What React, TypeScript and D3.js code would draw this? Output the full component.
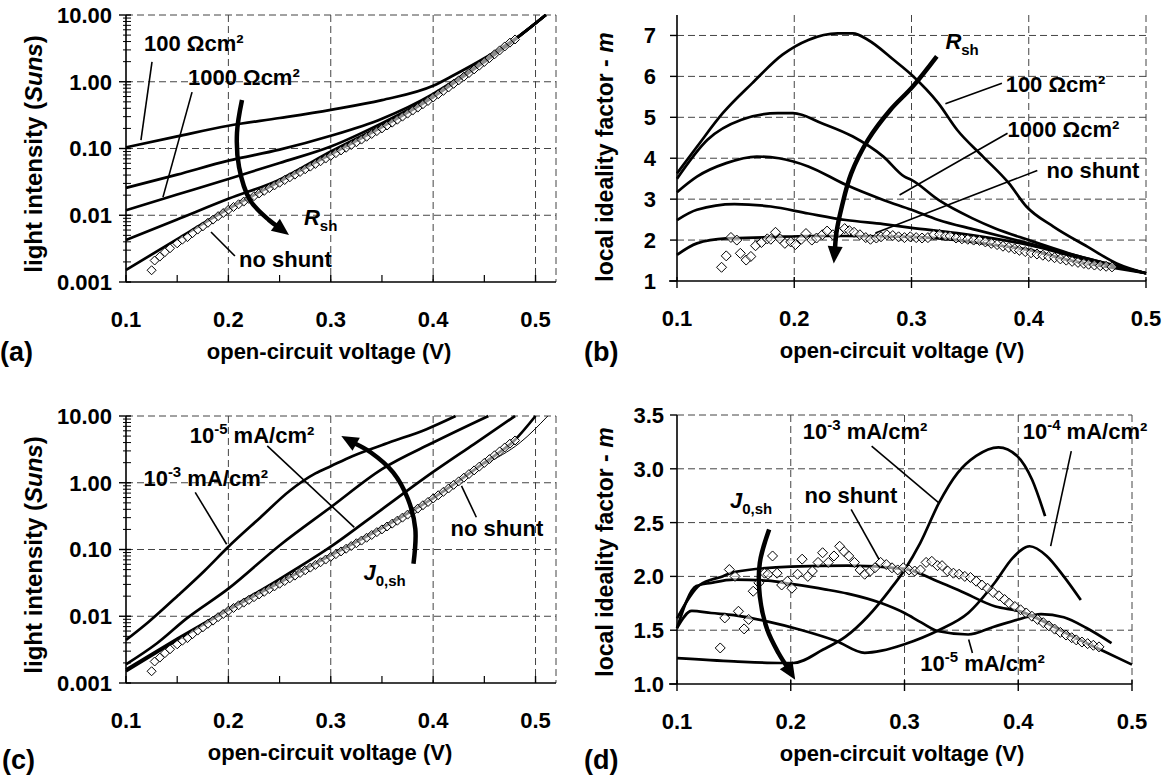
import React from 'react';
import * as d3 from 'd3';

const FONT = '"Liberation Sans", Arial, Helvetica, sans-serif';

// ---------- (a) light intensity vs Voc, ohmic shunt ----------
const vA = [0.10, 0.15, 0.20, 0.25, 0.30, 0.35, 0.40, 0.42, 0.45, 0.48, 0.51];
const sunsA100 = [0.104, 0.152, 0.219, 0.286, 0.38, 0.53, 0.87, 1.25, 2.25, 4.4, 10];
const sunsA300 = [0.0257, 0.0406, 0.0658, 0.0961, 0.155, 0.28, 0.66, 1.02, 2.1, 4.35, 10];
const sunsA1000 = [0.0119, 0.0204, 0.035, 0.0607, 0.107, 0.24, 0.62, 0.98, 2.05, 4.3, 10];
const sunsA3000 = [0.00425, 0.00863, 0.0176, 0.0342, 0.09, 0.22, 0.6, 0.96, 2.0, 4.3, 10];
const sunsANoShunt = [0.00151, 0.0044, 0.0125, 0.032, 0.082, 0.21, 0.59, 0.95, 1.98, 4.3, 10];

// measured Suns-Voc points (diamonds, panels a and c)
const measVoc = [
  0.125, 0.128, 0.133, 0.138, 0.143, 0.150, 0.155, 0.160, 0.165, 0.170, 0.175, 0.180, 0.185, 0.190, 0.195,
  0.200, 0.205, 0.210, 0.215, 0.220, 0.225, 0.230, 0.235, 0.240, 0.245, 0.250, 0.255, 0.260, 0.265, 0.270,
  0.275, 0.280, 0.285, 0.290, 0.295, 0.300, 0.305, 0.310, 0.315, 0.320, 0.325, 0.330, 0.335, 0.340, 0.345,
  0.350, 0.355, 0.360, 0.365, 0.370, 0.375, 0.380, 0.385, 0.390, 0.395, 0.400, 0.405, 0.410, 0.415, 0.420,
  0.425, 0.430, 0.435, 0.440, 0.445, 0.450, 0.455, 0.460, 0.465, 0.470, 0.475, 0.480,
];
const measSuns = [
  0.0015, 0.0021, 0.0024, 0.0028, 0.0032, 0.0038, 0.0043, 0.0047, 0.0054, 0.0061, 0.0068, 0.0077, 0.0086, 0.0097, 0.0108,
  0.0121, 0.0133, 0.0146, 0.016, 0.0176, 0.0193, 0.0212, 0.0232, 0.0255, 0.028, 0.0307, 0.0337, 0.037, 0.0406, 0.0445,
  0.0488, 0.0535, 0.0587, 0.0644, 0.0707, 0.0776, 0.0852, 0.0935, 0.1026, 0.1127, 0.124, 0.136, 0.15, 0.165, 0.182,
  0.2, 0.221, 0.244, 0.27, 0.3, 0.333, 0.37, 0.41, 0.46, 0.515, 0.58, 0.65, 0.73, 0.82, 0.93,
  1.05, 1.19, 1.35, 1.53, 1.74, 1.98, 2.26, 2.58, 2.95, 3.38, 3.85, 4.3,
];

// ---------- (b) local ideality factor, ohmic shunt ----------
const vB100 = [0.1, 0.117, 0.139, 0.164, 0.19, 0.212, 0.237, 0.25, 0.263, 0.285, 0.3, 0.323, 0.339, 0.361, 0.383, 0.398, 0.421, 0.45, 0.475, 0.5];
const mB100 = [3.63, 4.28, 5.1, 5.83, 6.53, 6.89, 7.05, 7.05, 6.89, 6.4, 6.04, 5.34, 4.69, 4.04, 3.39, 2.82, 2.33, 1.84, 1.43, 1.19];
const vB300 = [0.1, 0.126, 0.155, 0.186, 0.199, 0.224, 0.25, 0.276, 0.294, 0.3, 0.323, 0.352, 0.371, 0.4, 0.434, 0.5];
const mB300 = [3.5, 4.45, 4.94, 5.1, 5.1, 4.85, 4.53, 4.04, 3.55, 3.47, 2.98, 2.53, 2.29, 2.0, 1.68, 1.19];
const vB1000 = [0.1, 0.117, 0.142, 0.168, 0.187, 0.212, 0.244, 0.276, 0.3, 0.323, 0.355, 0.4, 0.45, 0.5];
const mB1000 = [3.17, 3.55, 3.88, 4.04, 4.0, 3.8, 3.35, 2.98, 2.74, 2.49, 2.25, 1.92, 1.55, 1.19];
const vB3000 = [0.1, 0.117, 0.149, 0.18, 0.212, 0.244, 0.276, 0.3, 0.339, 0.4, 0.45, 0.5];
const mB3000 = [2.49, 2.74, 2.88, 2.82, 2.65, 2.49, 2.39, 2.3, 2.17, 1.88, 1.51, 1.19];
const vBNoShunt = [0.1, 0.117, 0.142, 0.18, 0.212, 0.244, 0.3, 0.339, 0.371, 0.4, 0.434, 0.466, 0.5];
const mBNoShunt = [1.64, 1.92, 2.04, 2.07, 2.1, 2.1, 2.08, 2.0, 1.88, 1.76, 1.51, 1.35, 1.19];

// measured local ideality factor (diamonds, panels b and d)
const measVm = [
  0.138, 0.142, 0.146, 0.151, 0.154, 0.159, 0.163, 0.167, 0.172, 0.177, 0.18, 0.184, 0.188, 0.192, 0.197,
  0.201, 0.206, 0.21, 0.215, 0.219, 0.224, 0.228, 0.233, 0.238, 0.243, 0.247, 0.251, 0.256, 0.261, 0.265,
  0.27, 0.274, 0.279, 0.284, 0.289, 0.294, 0.299, 0.304, 0.309, 0.314, 0.319, 0.324, 0.329, 0.333, 0.338,
  0.343, 0.348, 0.353, 0.358, 0.363, 0.368, 0.373, 0.378, 0.383, 0.388, 0.392, 0.397, 0.402, 0.407, 0.412,
  0.417, 0.422, 0.427, 0.432, 0.437, 0.442, 0.447, 0.451, 0.456, 0.461, 0.466, 0.471,
];
const measM = [
  1.335, 1.614, 2.064, 2.0, 1.676, 1.512, 1.6, 1.862, 1.94, 2.03, 2.02, 2.19, 2.03, 1.92, 1.955,
  1.89, 2.02, 2.16, 2.0, 2.05, 2.13, 2.22, 2.13, 2.19, 2.28, 2.23, 2.19, 2.13, 2.06, 2.02,
  2.05, 2.08, 2.13, 2.11, 2.08, 2.06, 2.08, 2.06, 2.05, 2.06, 2.13, 2.14, 2.1, 2.1, 2.05,
  2.03, 2.02, 2.0, 1.99, 1.955, 1.92, 1.89, 1.85, 1.82, 1.785, 1.75, 1.72, 1.69, 1.66, 1.63,
  1.6, 1.57, 1.54, 1.51, 1.48, 1.455, 1.43, 1.41, 1.39, 1.375, 1.36, 1.345,
];

// ---------- (c) light intensity vs Voc, non-linear shunt ----------
const vC3 = [0.1, 0.122, 0.151, 0.177, 0.2, 0.231, 0.26, 0.285, 0.3, 0.321, 0.357, 0.393, 0.422];
const sunsC3 = [0.0044, 0.0082, 0.0206, 0.0486, 0.11, 0.3, 0.76, 1.38, 1.77, 2.5, 4.0, 6.3, 10];
const vC4 = [0.1, 0.13, 0.159, 0.2, 0.25, 0.3, 0.35, 0.4, 0.454];
const sunsC4 = [0.0019, 0.0039, 0.0092, 0.0259, 0.115, 0.43, 1.6, 4.0, 10];
const vC5 = [0.1, 0.15, 0.2, 0.25, 0.3, 0.35, 0.4, 0.44, 0.48];
const sunsC5 = [0.0016, 0.0046, 0.0128, 0.036, 0.11, 0.4, 1.45, 3.8, 10];
const vCNoShunt = [0.1, 0.15, 0.2, 0.25, 0.3, 0.35, 0.4, 0.45, 0.48, 0.5];
const sunsCNoShunt = [0.0015, 0.0044, 0.0125, 0.032, 0.082, 0.21, 0.59, 2.0, 4.4, 10];
const vCThin = [0.45, 0.485, 0.512];
const sunsCThin = [1.9, 4.0, 10];

// ---------- (d) local ideality factor, non-linear shunt ----------
const vD3 = [0.1, 0.15, 0.19, 0.2023, 0.2285, 0.2482, 0.2679, 0.2875, 0.3, 0.3138, 0.3302, 0.3466, 0.363, 0.3826, 0.399, 0.4121, 0.4236];
const mD3 = [1.24, 1.21, 1.195, 1.195, 1.32, 1.44, 1.63, 1.88, 2.06, 2.31, 2.68, 2.96, 3.12, 3.2, 3.12, 2.9, 2.56];
const vD4 = [0.1, 0.113, 0.13, 0.15, 0.18, 0.21, 0.24, 0.265, 0.28, 0.3, 0.33, 0.356, 0.38, 0.395, 0.41, 0.425, 0.44, 0.455];
const mD4 = [1.52, 1.68, 1.66, 1.64, 1.58, 1.5, 1.4, 1.29, 1.31, 1.37, 1.5, 1.66, 1.95, 2.17, 2.28, 2.19, 2.0, 1.78];
const vD5 = [0.1, 0.117, 0.13, 0.15, 0.18, 0.2, 0.23, 0.25, 0.28, 0.3, 0.315, 0.33, 0.356, 0.378, 0.4, 0.42, 0.44, 0.46, 0.482];
const mD5 = [1.52, 1.91, 1.94, 1.97, 1.96, 1.93, 1.88, 1.84, 1.75, 1.66, 1.57, 1.49, 1.46, 1.53, 1.6, 1.65, 1.62, 1.52, 1.38];
const vDNoShunt = [0.1, 0.12, 0.14, 0.15, 0.2, 0.25, 0.3, 0.33, 0.35, 0.38, 0.4, 0.45, 0.5];
const mDNoShunt = [1.61, 1.92, 2.0, 2.04, 2.09, 2.1, 2.07, 1.95, 1.86, 1.72, 1.68, 1.43, 1.18];

const logTicks = [0.001, 0.01, 0.1, 1, 10];
const logLabels = ['0.001', '0.01', '0.10', '1.00', '10.00'];
const xTicks = [0.1, 0.2, 0.3, 0.4, 0.5];

type Sc = (v: number) => number;
type Curve = { x: number[]; y: number[]; w?: number };

function diamond(cx: number, cy: number, r: number) {
  return `M${cx},${cy - r}L${cx + r},${cy}L${cx},${cy + r}L${cx - r},${cy}Z`;
}

function Arrow({ pts, x, y }: { pts: number[][]; x: Sc; y: Sc }) {
  const p = pts.map(([a, b]) => [x(a), y(b)] as [number, number]);
  const [tx, ty] = p[p.length - 1];
  const [px, py] = p[p.length - 2];
  const ang = Math.atan2(ty - py, tx - px);
  const L = 17, hw = 7.5;
  const bx = tx - L * Math.cos(ang), by = ty - L * Math.sin(ang);
  const shaft = [...p.slice(0, -1), [bx + 2 * Math.cos(ang), by + 2 * Math.sin(ang)] as [number, number]];
  const head = [
    [tx, ty],
    [bx - hw * Math.sin(ang), by + hw * Math.cos(ang)],
    [bx + hw * Math.sin(ang), by - hw * Math.cos(ang)],
  ];
  return (
    <g>
      <path d={d3.line().curve(d3.curveCatmullRom)(shaft) || ''} fill="none" stroke="#000" strokeWidth={4.5} />
      <polygon points={head.map((q) => q.join(',')).join(' ')} fill="#000" />
    </g>
  );
}

function Pointer({ a, b, x, y }: { a: number[]; b: number[]; x: Sc; y: Sc }) {
  return <line x1={x(a[0])} y1={y(a[1])} x2={x(b[0])} y2={y(b[1])} stroke="#000" strokeWidth={1.6} />;
}

type PanelProps = {
  left: number; right: number; top: number; bottom: number;
  xMax: number; log: boolean; yMin: number; yMax: number;
  yTicks: number[]; yLabels: string[]; gridY: number[]; gridX: number[];
  yLabelGap: number; crossTicks: boolean;
  curves: Curve[]; mx: number[]; my: number[]; mr: number;
  xTitleX: number; yTitleX: number; yTitleY: number; yTitleSize: number; yTitle: React.ReactNode;
  letter: string; letterY: number; letterX: number;
  annot: (x: Sc, y: Sc) => React.ReactNode;
};

function Panel(p: PanelProps) {
  const x = d3.scaleLinear().domain([0.1, p.xMax]).range([p.left, p.right]);
  const y: any = (p.log ? d3.scaleLog() : d3.scaleLinear()).domain([p.yMin, p.yMax]).range([p.bottom, p.top]);
  const line = d3.line<[number, number]>().x((d) => x(d[0])).y((d) => y(d[1])).curve(d3.curveMonotoneX);
  const dash = '7,4';
  const minorY: number[] = [];
  if (p.log) {
    for (let e = -3; e < 1; e++) for (let k = 2; k < 10; k++) minorY.push(k * Math.pow(10, e));
  }
  const xMinor = p.crossTicks ? [] : d3.range(0.15, p.xMax, 0.1);
  return (
    <g>
      {/* grid */}
      {p.gridY.map((g) => (
        <line key={'gy' + g} x1={p.left} x2={p.right} y1={y(g)} y2={y(g)} stroke="#444" strokeDasharray={dash} strokeWidth={1} />
      ))}
      {p.gridX.map((g) => (
        <line key={'gx' + g} x1={x(g)} x2={x(g)} y1={p.top} y2={p.bottom} stroke="#444" strokeDasharray={dash} strokeWidth={1} />
      ))}
      {/* axes */}
      <line x1={p.left} x2={p.left} y1={p.top} y2={p.bottom} stroke="#000" strokeWidth={1.6} />
      <line x1={p.crossTicks ? p.left - 8 : p.left} x2={p.right} y1={p.bottom} y2={p.bottom} stroke="#000" strokeWidth={1.6} />
      {p.yTicks.map((t) => (
        <line key={'yt' + t} x1={p.left - 7} x2={p.log ? p.left + 5 : p.left} y1={y(t)} y2={y(t)} stroke="#000" strokeWidth={1.4} />
      ))}
      {minorY.map((t) => (
        <line key={'ym' + t} x1={p.left - 3} x2={p.left + 5} y1={y(t)} y2={y(t)} stroke="#000" strokeWidth={1} />
      ))}
      {xTicks.map((t) => (
        <line key={'xt' + t} x1={x(t)} x2={x(t)} y1={p.crossTicks ? p.bottom - 4 : p.bottom - 7} y2={p.crossTicks ? p.bottom + 7 : p.bottom} stroke="#000" strokeWidth={1.4} />
      ))}
      {xMinor.map((t) => (
        <line key={'xm' + t} x1={x(t)} x2={x(t)} y1={p.bottom - 7} y2={p.bottom} stroke="#000" strokeWidth={1.2} />
      ))}
      {/* curves */}
      {p.curves.map((c, i) => (
        <path key={'c' + i} d={line(c.x.map((v, j) => [v, c.y[j]] as [number, number])) || ''} fill="none" stroke="#000" strokeWidth={c.w ?? 2.7} strokeLinejoin="round" />
      ))}
      {/* measured points */}
      {p.mx.map((v, i) => (
        <path key={'m' + i} d={diamond(x(v), y(p.my[i]), p.mr)} fill="#fff" fillOpacity={0.55} stroke="#000" strokeWidth={1} />
      ))}
      {p.annot(x, y)}
      {/* tick labels */}
      <g fontFamily={FONT} fontWeight="bold" fontSize={22} fill="#000">
        {p.yTicks.map((t, i) => (
          <text key={'yl' + t} x={p.left - p.yLabelGap} y={y(t)} dy="0.36em" textAnchor="end">{p.yLabels[i]}</text>
        ))}
        {xTicks.map((t) => (
          <text key={'xl' + t} x={x(t)} y={p.bottom + 45} textAnchor="middle">{t.toFixed(1)}</text>
        ))}
        <text x={p.xTitleX} y={p.bottom + 77} textAnchor="middle">open-circuit voltage (V)</text>
        <text transform={`translate(${p.yTitleX},${p.yTitleY}) rotate(-90)`} textAnchor="middle" fontSize={p.yTitleSize}>{p.yTitle}</text>
        <text x={p.letterX} y={p.letterY} fontSize={27}>{p.letter}</text>
      </g>
    </g>
  );
}

function T({ x, y, children }: { x: number; y: number; children: React.ReactNode }) {
  return (
    <text x={x} y={y} fontFamily={FONT} fontWeight="bold" fontSize={22} fill="#000">{children}</text>
  );
}

const sup = (s: string) => <tspan dy={-9} fontSize={15}>{s}</tspan>;
const unit = (e: string) => (
  <>
    10{sup(e)}<tspan dy={9}> mA/cm²</tspan>
  </>
);

export default function App() {
  const curvesA: Curve[] = [sunsA100, sunsA300, sunsA1000, sunsA3000, sunsANoShunt].map((s) => ({ x: vA, y: s }));
  const curvesB: Curve[] = [
    { x: vB100, y: mB100 }, { x: vB300, y: mB300 }, { x: vB1000, y: mB1000 },
    { x: vB3000, y: mB3000 }, { x: vBNoShunt, y: mBNoShunt },
  ];
  const curvesC: Curve[] = [
    { x: vC3, y: sunsC3 }, { x: vC4, y: sunsC4 }, { x: vC5, y: sunsC5 },
    { x: vCNoShunt, y: sunsCNoShunt }, { x: vCThin, y: sunsCThin, w: 1 },
  ];
  const curvesD: Curve[] = [
    { x: vD3, y: mD3 }, { x: vD4, y: mD4 }, { x: vD5, y: mD5 }, { x: vDNoShunt, y: mDNoShunt },
  ];
  const sunsTitle = <>light intensity (<tspan fontStyle="italic">Suns</tspan>)</>;
  const mTitle = <>local ideality factor - <tspan fontStyle="italic">m</tspan></>;

  return (
    <svg width={1168} height={778} style={{ display: 'block', background: '#fff' }}>
      <style>{'body{margin:0}'}</style>
      <Panel
        left={126} right={556} top={15} bottom={282} xMax={0.52} log yMin={0.001} yMax={10}
        yTicks={logTicks} yLabels={logLabels} gridY={[0.01, 0.1, 1, 10]} gridX={[0.2, 0.3, 0.4, 0.5, 0.52]}
        yLabelGap={14} crossTicks={false} curves={curvesA} mx={measVoc} my={measSuns} mr={4.5}
        xTitleX={329} yTitleX={42} yTitleY={154} yTitleSize={24} yTitle={sunsTitle} letter="(a)" letterX={0} letterY={361}
        annot={(x, y) => (
          <g>
            <Pointer a={[0.1254, 1.98]} b={[0.1146, 0.134]} x={x} y={y} />
            <Pointer a={[0.1645, 0.7]} b={[0.1361, 0.0187]} x={x} y={y} />
            <Pointer a={[0.183, 0.0056]} b={[0.2064, 0.00245]} x={x} y={y} />
            <Arrow pts={[[0.2133, 0.533], [0.2084, 0.171], [0.2104, 0.0528], [0.2211, 0.0169], [0.2396, 0.0085], [0.2592, 0.00506]]} x={x} y={y} />
            <T x={x(0.1176)} y={y(2.89)}>100 Ωcm²</T>
            <T x={x(0.1605)} y={y(0.893)}>1000 Ωcm²</T>
            <T x={x(0.2104)} y={y(0.00168)}>no shunt</T>
            <T x={x(0.2738)} y={y(0.00715)}><tspan fontStyle="italic">R</tspan><tspan fontSize={15} dy={6}>sh</tspan></T>
          </g>
        )}
      />
      <Panel
        left={677} right={1146} top={15} bottom={281} xMax={0.5} log={false} yMin={1} yMax={7.5}
        yTicks={[1, 2, 3, 4, 5, 6, 7]} yLabels={['1', '2', '3', '4', '5', '6', '7']} gridY={[2, 3, 4, 5, 6, 7]} gridX={[0.2, 0.3, 0.4, 0.5]}
        yLabelGap={21} crossTicks curves={curvesB} mx={measVm} my={measM} mr={5}
        xTitleX={902} yTitleX={613} yTitleY={157} yTitleSize={23} yTitle={mTitle} letter="(b)" letterX={584} letterY={361}
        annot={(x, y) => (
          <g>
            <Pointer a={[0.3771, 5.83]} b={[0.3289, 5.33]} x={x} y={y} />
            <Pointer a={[0.3819, 4.61]} b={[0.2898, 3.1]} x={x} y={y} />
            <Pointer a={[0.4073, 3.7]} b={[0.2692, 2.17]} x={x} y={y} />
            <Arrow pts={[[0.3216, 6.49], [0.301, 5.75], [0.2819, 5.18], [0.2629, 4.45], [0.2486, 3.63], [0.2406, 2.82], [0.2359, 2.17], [0.2337, 1.43]]} x={x} y={y} />
            <T x={x(0.3803)} y={y(5.63)}>100 Ωcm²</T>
            <T x={x(0.3819)} y={y(4.51)}>1000 Ωcm²</T>
            <T x={x(0.4152)} y={y(3.51)}>no shunt</T>
            <T x={x(0.3289)} y={y(6.66)}><tspan fontStyle="italic">R</tspan><tspan fontSize={15} dy={6}>sh</tspan></T>
          </g>
        )}
      />
      <Panel
        left={126} right={556} top={416} bottom={683} xMax={0.52} log yMin={0.001} yMax={10}
        yTicks={logTicks} yLabels={logLabels} gridY={[0.01, 0.1, 1, 10]} gridX={[0.2, 0.3, 0.4, 0.5, 0.52]}
        yLabelGap={14} crossTicks={false} curves={curvesC} mx={measVoc} my={measSuns} mr={4.5}
        xTitleX={330} yTitleX={42} yTitleY={555} yTitleSize={24} yTitle={sunsTitle} letter="(c)" letterX={2} letterY={769}
        annot={(x, y) => (
          <g>
            <Pointer a={[0.238, 3.56]} b={[0.323, 0.215]} x={x} y={y} />
            <Pointer a={[0.1676, 0.718]} b={[0.1983, 0.12]} x={x} y={y} />
            <Pointer a={[0.4422, 0.304]} b={[0.4277, 0.9]} x={x} y={y} />
            <Arrow pts={[[0.3808, 0.0611], [0.3826, 0.203], [0.3754, 0.57], [0.3609, 1.43], [0.3392, 2.84], [0.3103, 5.02]]} x={x} y={y} />
            <T x={x(0.1622)} y={y(4.0)}>{unit('-5')}</T>
            <T x={x(0.117)} y={y(0.9)}>{unit('-3')}</T>
            <T x={x(0.4169)} y={y(0.162)}>no shunt</T>
            <T x={x(0.332)} y={y(0.0344)}><tspan fontStyle="italic">J</tspan><tspan fontSize={15} dy={6}>0,sh</tspan></T>
          </g>
        )}
      />
      <Panel
        left={677} right={1132} top={415} bottom={684} xMax={0.5} log={false} yMin={1} yMax={3.5}
        yTicks={[1, 1.5, 2, 2.5, 3, 3.5]} yLabels={['1.0', '1.5', '2.0', '2.5', '3.0', '3.5']} gridY={[1.5, 2, 2.5, 3, 3.5]} gridX={[0.2, 0.3, 0.4, 0.5]}
        yLabelGap={13} crossTicks curves={curvesD} mx={measVm} my={measM} mr={5}
        xTitleX={902} yTitleX={613} yTitleY={552} yTitleSize={23} yTitle={mTitle} letter="(d)" letterX={584} letterY={769}
        annot={(x, y) => (
          <g>
            <Pointer a={[0.2711, 3.21]} b={[0.3302, 2.684]} x={x} y={y} />
            <Pointer a={[0.4466, 3.165]} b={[0.4285, 2.281]} x={x} y={y} />
            <Pointer a={[0.2531, 2.622]} b={[0.2777, 2.157]} x={x} y={y} />
            <Pointer a={[0.3597, 1.288]} b={[0.3564, 1.413]} x={x} y={y} />
            <Arrow pts={[[0.181, 2.436], [0.1728, 2.126], [0.1728, 1.816], [0.1793, 1.506], [0.1892, 1.288], [0.2039, 1.04]]} x={x} y={y} />
            <T x={x(0.2105)} y={y(3.274)}>{unit('-3')}</T>
            <T x={x(0.4039)} y={y(3.274)}>{unit('-4')}</T>
            <T x={x(0.2121)} y={y(2.684)}>no shunt</T>
            <T x={x(0.3138)} y={y(1.118)}>{unit('-5')}</T>
            <T x={x(0.1466)} y={y(2.638)}><tspan fontStyle="italic">J</tspan><tspan fontSize={15} dy={6}>0,sh</tspan></T>
          </g>
        )}
      />
    </svg>
  );
}
